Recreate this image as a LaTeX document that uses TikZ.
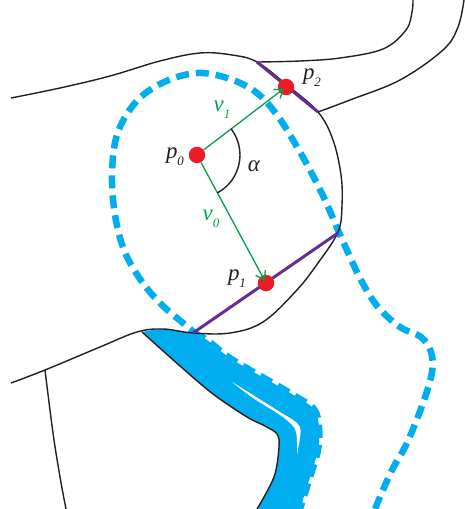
\documentclass[tikz,border=0pt]{standalone}
\usepackage{fontspec}
\setmainfont{Liberation Serif}
\usetikzlibrary{arrows.meta}
\definecolor{cyanb}{HTML}{00AEEF}
\definecolor{purp}{HTML}{662D91}
\definecolor{grn}{HTML}{00A14B}
\definecolor{redd}{HTML}{ED1C24}
\definecolor{txt}{HTML}{231F20}
\newcommand\lsub[1]{\raisebox{-0.3em}{\fontsize{13}{13}\selectfont\itshape #1}}
\begin{document}
\begin{tikzpicture}[x=1bp,y=-1bp,
  blk/.style={draw=txt, line width=1.4bp},
  dashloop/.style={draw=cyanb, line width=6.5bp, dash pattern=on 13bp off 7bp},
  cutline/.style={draw=purp, line width=3bp},
  vecarrow/.style={draw=grn, line width=1.3bp, -{Straight Barb[length=8bp,width=11bp]}},
  ptdot/.style={circle, fill=redd, minimum size=16.5bp, inner sep=0pt},
  lbl/.style={inner sep=0pt, text=txt, font=\fontsize{23}{23}\selectfont\itshape},
  glbl/.style={lbl, text=grn}]
\useasboundingbox (0,0) rectangle (465,509);
% blue band
\fill[cyanb] plot[smooth, tension=0.55] coordinates {(142,332) (180,366) (213,394) (247,417) (265,426) (277,434) (279,447) (274,477) (257,509)}
  -- (300,509) -- plot[smooth, tension=0.55] coordinates {(300,509) (310,477) (318,450) (319,427) (314,409) (295,396) (273,383) (250,370) (227,356) (207,340) (193,333)}
  -- plot[smooth] coordinates {(193,333) (163,329) (142,332)} -- cycle;
\draw[dashloop] plot[smooth, tension=0.55] coordinates {(193,333) (207,340) (227,356) (250,370) (273,383) (295,396) (314,409) (319,427) (318,450) (310,477) (300,509)};
\fill[white] plot[smooth, tension=0.6] coordinates {(232,382) (253,395) (280,412) (293,420) (300,427) (300,437) (297,455)}
  -- plot[smooth, tension=0.6] coordinates {(297,455) (297,443) (296,432) (292,425) (280,415) (253,398) (232,382)} -- cycle;
% big dashed loop
\draw[dashloop] plot[smooth, tension=0.6] coordinates {(200,337) (183,323) (160,303) (140,279) (124,250) (115,215) (112,175) (117,135) (135,103) (162,83) (197,73) (230,79) (257,93) (277,115) (293,140) (310,170) (325,200) (338,230) (350,257) (362,282) (378,307) (400,327) (421,337) (431,352) (432,372) (423,403) (407,443) (391,472) (375,509)};
% outlines
\draw[blk] plot[smooth, tension=0.6] coordinates {(11,98) (60,88) (110,76) (160,61) (200,53) (232,55) (257,62) (287,85) (318,112) (333,140) (341,175) (342,205) (338,232) (318,263) (296,291) (263,322) (230,333) (193,333) (163,329) (137,332) (100,347) (45,370) (11,383)};
\draw[blk] plot[smooth, tension=0.6] coordinates {(258,62) (300,61) (340,58) (383,49) (406,30) (412,12) (413,0)};
\draw[blk] plot[smooth, tension=0.6] coordinates {(318,112) (350,100) (400,80) (443,50) (458,27) (464,0)};
\draw[blk] plot[smooth, tension=0.6] coordinates {(45,370) (53,433) (60,477) (66,509)};
\draw[blk] plot[smooth, tension=0.55] coordinates {(142,332) (180,366) (213,394) (247,417) (265,426) (277,434) (279,447) (274,477) (257,509)};
% purple chords
\coordinate (ca) at (193,333);
\coordinate (cb) at (338,233);
\coordinate (cc) at (257,62);
\coordinate (cd) at (318,112);
\draw[cutline] (ca) -- (cb);
\draw[cutline] (cc) -- (cd);
% points
\node[ptdot] (p0) at (197,155) {};
\node[ptdot] (p1) at (266,283) {};
\node[ptdot] (p2) at (286,87) {};
\draw[vecarrow, shorten >=-6bp] (p0) -- (p2);
\draw[vecarrow, shorten >=-6bp] (p0) -- (p1);
% angle arc
\draw[blk] (p0.center) ++(-37.4:43) arc[start angle=-37.4, end angle=61.7, radius=43];
% labels
\node[lbl] (lp0) at (175,157) {p\lsub{0}};
\node[lbl] (lp1) at (237,279) {p\lsub{1}};
\node[lbl] (lp2) at (312,78) {p\lsub{2}};
\node[glbl] (lv1) at (222,110) {v\lsub{1}};
\node[glbl] (lv0) at (211,219) {v\lsub{0}};
\node[lbl] (la) at (254,166) {α};
\end{tikzpicture}
\end{document}
